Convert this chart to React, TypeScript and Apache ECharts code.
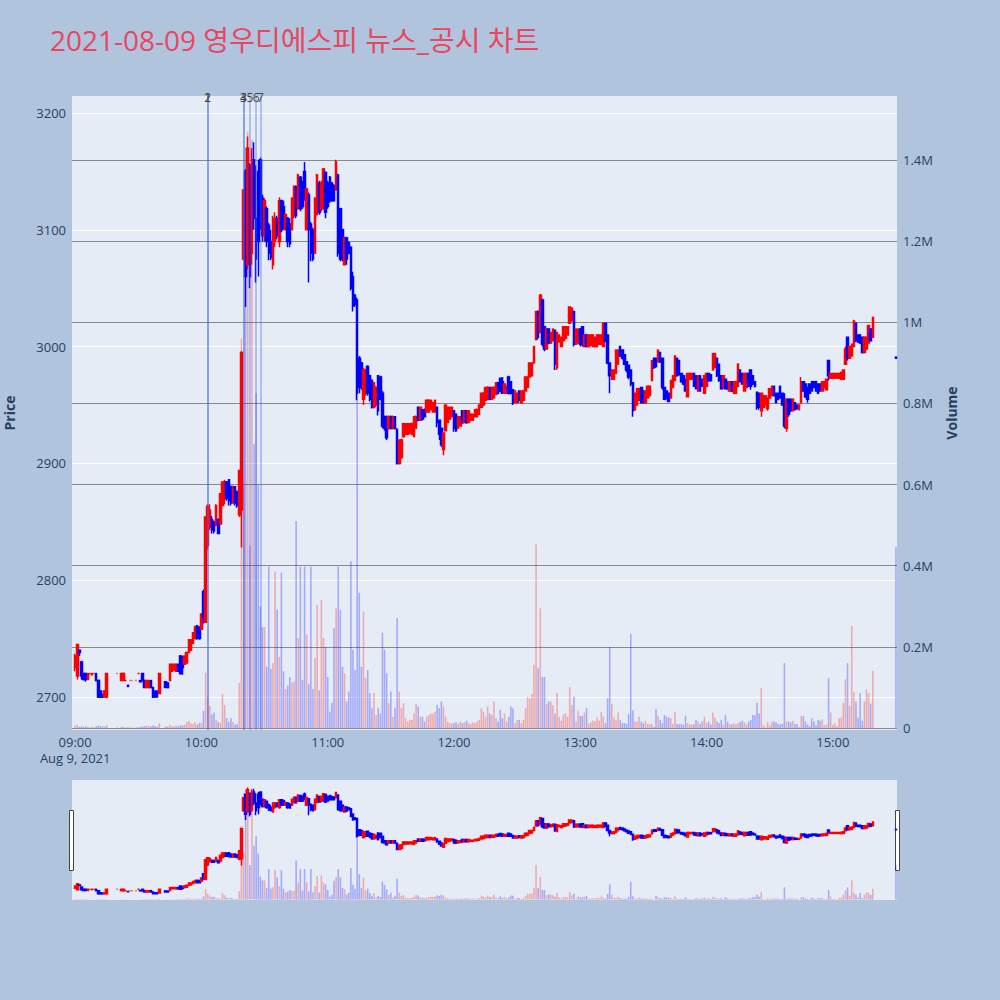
import React, { useEffect, useRef } from 'react';
import * as echarts from 'echarts';

const FONT = "'Open Sans', 'Noto Sans CJK KR', sans-serif";
const TITLE = '2021-08-09 영우디에스피 뉴스_공시 차트';
const HOUR_TICKS = ['09:00', '10:00', '11:00', '12:00', '13:00', '14:00', '15:00'];
const DATE_LABEL = 'Aug 9, 2021';
const NEWS_TIMES = ['10:03', '10:03', '10:20', '10:20', '10:23', '10:26', '10:28'];
const NEWS_LABELS = ['1', '2', '3', '4', '5', '6', '7'];
const PRICE_RANGE = [2671.7, 3214.6];
const VOLUME_RANGE = [-4.9, 1557.7]; // thousand shares

// candles: [open, close, low, high] per minute, null = no trade
const C09 = [
  [2725,2735,2722,2737],[2718,2745,2715,2745],[2740,2738,2735,2740],[2730,2718,2715,2731],[2720,2715,2714,2720],
  [2720,2715,2713,2720],[2715,2720,2715,2720],[2720,2720,2719,2720],[2719,2720,2719,2720],[2720,2720,2720,2720],
  [2720,2714,2714,2720],[2714,2700,2699,2715],[2705,2700,2699,2705],[2702,2700,2699,2702],[2700,2705,2700,2706],
  [2700,2720,2699,2720],null,null,null,null,
  [2720,2720,2720,2720],null,[2714,2720,2714,2720],[2714,2720,2714,2721],[2714,2714,2714,2714],
  [2710,2709,2709,2710],[2714,2714,2714,2714],[2714,2714,2714,2714],null,[2714,2714,2714,2714],
  [2720,2720,2720,2720],[2714,2713,2713,2714],[2720,2714,2714,2720],[2714,2708,2708,2714],[2708,2714,2708,2714],
  [2708,2714,2708,2714],[2714,2708,2708,2714],[2708,2700,2699,2708],[2705,2700,2699,2705],[2705,2700,2700,2705],
  [2703,2720,2703,2720],null,null,[2713,2708,2708,2713],[2712,2708,2708,2712],
  [2714,2728,2714,2728],[2722,2728,2722,2728],[2723,2728,2723,2728],[2722,2728,2722,2728],[2728,2722,2722,2728],
  [2735,2720,2719,2736],[2730,2725,2719,2735],[2728,2735,2728,2735],[2729,2738,2729,2738],[2738,2749,2738,2749],
  [2740,2749,2740,2749],[2746,2755,2746,2755],[2750,2760,2750,2761],[2761,2750,2749,2761],[2760,2750,2749,2760],
];
const C10 = [
  [2758,2771,2758,2771],[2790,2768,2763,2792],[2764,2854,2764,2854],[2830,2863,2826,2865],[2845,2860,2843,2865],
  [2852,2843,2840,2855],[2850,2842,2840,2851],[2847,2864,2846,2865],[2852,2840,2840,2853],[2848,2874,2848,2874],
  [2864,2884,2864,2884],[2870,2884,2865,2886],[2884,2870,2868,2885],[2886,2868,2864,2886],[2880,2866,2864,2881],
  [2866,2880,2866,2881],[2880,2866,2864,2880],[2876,2864,2862,2876],[2856,2894,2854,2894],[2860,2995,2828,2996],
  [3075,3134,3074,3135],[3150,3060,3034,3152],[3070,3170,3066,3180],[3155,3060,3050,3157],[3080,3160,3070,3170],
  [3160,3110,3100,3175],[3110,3075,3055,3155],[3150,3090,3060,3160],[3160,3105,3100,3162],[3127,3095,3090,3130],
  [3095,3125,3090,3127],[3118,3090,3085,3120],[3104,3080,3074,3106],[3090,3076,3074,3100],[3070,3110,3066,3112],
  [3090,3110,3085,3115],[3110,3095,3092,3112],[3090,3125,3085,3128],[3125,3100,3098,3126],[3120,3102,3100,3125],
  [3100,3113,3100,3114],[3110,3090,3085,3111],[3105,3088,3085,3110],[3100,3127,3100,3128],[3112,3137,3110,3138],
  [3137,3112,3110,3138],[3118,3147,3118,3148],[3145,3118,3116,3146],[3140,3120,3118,3142],[3150,3126,3125,3158],
  [3100,3135,3100,3136],[3130,3100,3055,3132],[3105,3080,3073,3107],[3100,3075,3073,3102],[3080,3127,3080,3128],
  [3113,3147,3113,3148],[3140,3115,3113,3142],[3118,3140,3116,3142],[3118,3152,3118,3153],[3149,3115,3110,3150],
];
const C11 = [
  [3140,3120,3118,3142],[3145,3125,3123,3146],[3140,3125,3124,3141],[3138,3125,3124,3139],[3134,3158,3134,3160],
  [3147,3080,3077,3148],[3118,3075,3073,3119],[3100,3075,3073,3101],[3070,3093,3070,3094],[3093,3075,3070,3094],
  [3089,3080,3079,3090],[3085,3050,3048,3086],[3060,3035,3030,3064],[3044,3036,3034,3045],[3040,2960,2954,3042],
  [2990,2965,2960,2992],[2986,2965,2963,2987],[2955,2980,2950,2982],[2960,2980,2958,2981],[2983,2960,2958,2984],
  [2975,2955,2953,2976],[2971,2948,2947,2972],[2948,2969,2947,2969],[2950,2965,2948,2966],[2975,2945,2941,2975],
  [2974,2955,2954,2975],[2960,2932,2930,2962],[2940,2930,2928,2941],[2940,2922,2920,2941],[2930,2940,2929,2941],
  [2940,2930,2929,2941],[2930,2940,2929,2941],[2940,2930,2929,2940],[2929,2900,2899,2930],[2900,2920,2899,2920],
  [2905,2920,2904,2921],[2923,2934,2922,2934],[2925,2934,2924,2934],[2925,2934,2925,2934],[2926,2934,2925,2934],
  [2925,2934,2924,2935],[2923,2940,2923,2940],[2930,2940,2930,2941],[2948,2937,2936,2948],[2937,2948,2937,2948],
  [2946,2938,2937,2946],[2946,2940,2940,2947],[2944,2954,2944,2954],[2944,2954,2944,2955],[2946,2954,2946,2954],
  [2944,2952,2944,2952],[2944,2954,2944,2954],[2948,2935,2931,2948],[2937,2925,2920,2937],[2930,2916,2914,2930],
  [2912,2926,2907,2926],[2928,2950,2928,2950],[2935,2948,2935,2948],[2938,2948,2938,2948],[2940,2948,2940,2948],
];
const C12 = [
  [2945,2930,2927,2945],[2942,2928,2927,2943],[2930,2940,2930,2941],[2932,2940,2932,2940],[2945,2935,2934,2945],
  [2935,2945,2935,2946],[2945,2935,2934,2945],[2935,2945,2935,2945],[2937,2942,2937,2943],[2937,2942,2937,2942],
  [2940,2946,2940,2946],[2940,2946,2940,2947],[2942,2950,2942,2950],[2948,2960,2948,2960],[2950,2960,2950,2961],
  [2954,2965,2954,2965],[2955,2965,2955,2966],[2965,2955,2954,2965],[2955,2965,2955,2965],[2956,2965,2956,2966],
  [2959,2969,2959,2969],[2969,2960,2959,2970],[2973,2962,2961,2973],[2970,2960,2960,2974],[2960,2968,2960,2968],
  [2960,2966,2960,2966],[2974,2960,2959,2975],[2970,2960,2959,2970],[2963,2952,2950,2963],[2952,2962,2952,2962],
  [2952,2960,2952,2960],[2962,2954,2952,2962],[2952,2962,2952,2962],[2954,2962,2954,2962],[2962,2974,2962,2974],
  [2965,2974,2965,2974],[2974,2986,2974,2986],[2975,2986,2975,2986],[2986,3000,2986,3000],[3006,3030,3006,3030],
  [3030,3008,3006,3031],[3012,3044,3012,3045],[3040,3002,3000,3041],[3017,2998,2996,3017],[2998,3015,2998,3015],
  [3015,3003,3002,3015],[3003,3012,3003,3012],[3005,3015,3005,3015],[3014,2985,2980,3014],[2982,3012,2980,3012],
  [3004,3010,3004,3010],[3000,3008,3000,3008],[3005,3017,3005,3017],[3007,3017,3007,3017],[3010,3017,3010,3017],
  [3020,3034,3020,3034],[3022,3033,3022,3033],[3030,3002,3000,3030],[3002,3015,3002,3015],[3003,3015,3003,3015],
];
const C13 = [
  [3015,3002,3000,3016],[3017,3002,3000,3017],[3000,3010,3000,3010],[3010,3000,3000,3011],[3000,3010,3000,3010],
  [3001,3010,3001,3010],[3000,3010,3000,3010],[3000,3008,3000,3008],[3000,3010,3000,3010],[3002,3010,3002,3010],
  [3002,3010,3002,3010],[3000,3020,3000,3020],[3020,3005,3004,3020],[3010,2986,2985,3010],[2986,2975,2960,2986],
  [2972,2980,2972,2980],[2972,2980,2972,2980],[2977,2997,2977,2997],[2985,2997,2985,2997],[3000,2992,2991,3000],
  [2997,2990,2989,2997],[2993,2985,2984,2993],[2987,2980,2978,2987],[2984,2974,2972,2984],[2980,2968,2966,2980],
  [2969,2945,2940,2969],[2946,2960,2945,2960],[2950,2964,2950,2964],[2954,2964,2954,2964],[2965,2952,2952,2965],
  [2962,2952,2952,2962],[2952,2962,2952,2962],[2956,2966,2956,2966],[2958,2966,2958,2966],[2971,2988,2971,2988],
  [2990,2982,2981,2990],[2990,2983,2982,2990],[2987,2997,2987,2997],[2995,2987,2986,2995],[2990,2965,2963,2990],
  [2965,2955,2954,2965],[2962,2956,2955,2962],[2960,2953,2953,2960],[2956,2971,2956,2971],[2965,2975,2965,2975],
  [2971,2992,2971,2992],[2990,2975,2975,2990],[2988,2976,2975,2988],[2977,2970,2969,2977],[2975,2968,2967,2975],
  [2972,2962,2962,2972],[2957,2977,2957,2977],[2972,2977,2972,2977],[2972,2977,2972,2977],[2977,2966,2966,2977],
  [2975,2964,2964,2975],[2962,2975,2962,2975],[2975,2962,2962,2975],[2972,2966,2966,2972],[2960,2975,2960,2975],
];
const C14 = [
  [2966,2977,2966,2977],[2977,2971,2970,2977],[2976,2971,2970,2976],[2980,2994,2980,2994],[2982,2994,2982,2994],
  [2990,2975,2974,2990],[2985,2971,2970,2985],[2975,2964,2963,2975],[2965,2975,2965,2975],[2972,2964,2964,2972],
  [2970,2964,2963,2970],[2962,2970,2962,2970],[2970,2962,2961,2970],[2960,2970,2960,2970],[2960,2970,2960,2970],
  [2966,2985,2966,2985],[2980,2970,2970,2980],[2977,2968,2968,2977],[2962,2977,2962,2977],[2965,2977,2965,2977],
  [2977,2966,2966,2977],[2980,2966,2963,2980],[2975,2968,2967,2975],[2970,2966,2965,2970],[2961,2948,2946,2961],
  [2960,2948,2946,2960],[2945,2960,2940,2960],[2948,2958,2948,2958],[2950,2958,2950,2958],[2947,2956,2945,2956],
  [2956,2964,2956,2964],[2958,2966,2958,2966],[2966,2958,2958,2966],[2960,2952,2952,2960],[2960,2955,2954,2960],
  [2966,2956,2956,2966],[2960,2950,2950,2960],[2955,2932,2930,2960],[2930,2955,2927,2955],[2955,2942,2940,2955],
  [2955,2945,2944,2955],[2945,2955,2945,2955],[2952,2946,2946,2952],[2950,2947,2946,2950],[2946,2950,2946,2950],
  [2952,2970,2952,2974],[2970,2962,2962,2970],[2968,2957,2956,2968],[2965,2955,2952,2965],[2968,2960,2960,2968],
  [2970,2962,2962,2970],[2970,2965,2965,2970],[2970,2962,2962,2970],[2968,2960,2960,2968],[2968,2962,2962,2968],
  [2962,2970,2962,2970],[2965,2970,2965,2970],[2963,2972,2963,2972],[2988,2975,2971,2988],[2973,2977,2973,2977],
];
const C15 = [
  [2973,2977,2973,2977],[2973,2977,2973,2977],[2973,2977,2973,2977],[2973,2977,2973,2977],[2972,2978,2972,2978],
  [2972,2980,2972,2980],[2985,2998,2985,3000],[3008,2990,2988,3008],[2990,3000,2990,3000],[2992,3002,2992,3002],
  [3000,3022,3000,3023],[3020,3005,3004,3020],[3010,3004,3003,3010],[3010,3003,3003,3010],[3008,2995,2994,3008],
  [2995,3008,2995,3008],[2998,3008,2998,3008],[3003,3018,3003,3018],[3015,3005,3005,3015],[3008,3025,3008,3025],
  null,null,null,null,null,null,null,null,null,null,
  [2991,2990,2990,2991],
];

// volume per minute, thousand shares
const V09 = [6,8,3,4,3,4,3,2,3,2, 4,6,5,4,4,7,null,null,null,null, 2,null,4,3,1,2,1,1,null,2, 2,3,4,5,6,5,4,6,5,3, 12,null,null,4,3,8,5,4,6,4, 7,6,8,15,18,12,10,14,8,12];
const V10 = [13,42,136,77,54,33,38,20,15,12, 84,57,25,15,24,15,8,10,111,960, 600,1430,1470,450,1450,700,825,600,300,249, 249,151,398,146,160,386,292,175,383,140, 96,105,125,112,115,510,222,398,118,398, 230,108,398,96,173,304,93,316,222,200];
const V11 = [126,40,62,246,295,398,291,151,135,65, 90,411,193,143,860,333,151,287,123,143, 86,49,86,32,49,36,235,193,135,61, 90,28,49,271,90,49,61,24,16,20, 20,36,59,53,28,28,16,28,32,36, 36,40,57,49,65,53,28,16,12,12];
const V12 = [12,14,10,16,12,14,18,12,10,14, 12,16,20,49,40,28,53,36,32,65, 24,16,45,24,36,16,28,53,49,12, 20,20,12,20,49,77,73,84,156,452, 147,295,126,126,59,65,65,57,36,87, 28,18,34,36,28,101,57,77,16,43];
const V13 = [30,30,38,49,11,14,18,16,26,18, 40,28,12,73,200,59,26,20,38,20, 12,12,10,34,232,43,16,16,28,16, 12,18,10,10,10,3,46,30,20,12, 32,28,26,24,10,40,10,9,10,8, 30,12,9,9,9,20,16,10,16,28];
const V14 = [12,16,9,38,26,16,12,20,9,32, 16,10,9,12,9,12,15,18,14,9, 16,20,32,32,62,36,99,7,3,15, 7,16,16,14,10,9,10,160,16,16, 14,18,10,10,3,30,30,16,9,5, 24,16,7,20,18,22,7,9,123,38];
const V15 = [8,12,5,24,26,62,120,160,54,252, 88,65,26,86,18,65,95,86,60,141, null,null,null,null,null,null,null,null,null,null, 447];

const UP = '#FF0000';
const DOWN = '#0000FF';
const UP_VOL = 'rgba(255,0,0,0.28)';
const DOWN_VOL = 'rgba(0,0,255,0.28)';
const AXIS_TEXT = '#2a3f5f';

// x axis: one padding slot before 09:00 (plotly range starts slightly before the open), then 09:00..15:30
function buildMinutes(): string[] {
  const out: string[] = ['08:59'];
  for (let t = 9 * 60; t <= 15 * 60 + 30; t++) {
    const h = String(Math.floor(t / 60)).padStart(2, '0');
    const m = String(t % 60).padStart(2, '0');
    out.push(`${h}:${m}`);
  }
  return out;
}

export default function App() {
  const ref = useRef<HTMLDivElement>(null);

  useEffect(() => {
    document.body.style.margin = '0';
    if (!ref.current) return;
    const chart = echarts.init(ref.current, null, { renderer: 'svg' });

    const minutes = buildMinutes();
    const rawCandles = [null, ...C09, ...C10, ...C11, ...C12, ...C13, ...C14, ...C15];
    const rawVolumes = [null, ...V09, ...V10, ...V11, ...V12, ...V13, ...V14, ...V15];
    const candles = rawCandles.map((c) => (c ? c : ['-', '-', '-', '-']));
    const volumes = rawVolumes.map((v, i) => {
      const c = rawCandles[i];
      if (v == null || !c) return '-';
      return { value: v, itemStyle: { color: c[1] >= c[0] ? UP_VOL : DOWN_VOL } };
    });

    const candleStyle = {
      color: UP,
      color0: DOWN,
      borderColor: UP,
      borderColor0: DOWN,
      borderColorDoji: UP,
      borderWidth: 1.5,
    };

    const gridBase = {
      left: 72,
      width: 825,
      show: true,
      backgroundColor: '#E5ECF6',
      borderWidth: 0,
      containLabel: false,
      outerBoundsMode: 'none',
    };

    const option: any = {
      animation: false,
      backgroundColor: '#B0C4DE',
      textStyle: { fontFamily: FONT },
      title: {
        text: TITLE,
        left: 45,
        top: 21,
        textStyle: { color: '#E8475F', fontSize: 28, fontWeight: 'normal', fontFamily: FONT },
      },
      grid: [
        { ...gridBase, top: 96, height: 634 },
        { ...gridBase, top: 780, height: 120 },
      ],
      xAxis: [
        {
          type: 'category',
          gridIndex: 0,
          data: minutes,
          boundaryGap: true,
          axisLine: { show: false },
          axisTick: { show: false },
          splitLine: { show: false },
          axisLabel: {
            interval: (_i: number, v: string) => HOUR_TICKS.includes(v),
            formatter: (v: string) => (v === HOUR_TICKS[0] ? `${v}\n${DATE_LABEL}` : v),
            color: AXIS_TEXT,
            fontSize: 13,
            lineHeight: 16,
            margin: 4,
            fontFamily: FONT,
          },
        },
        { type: 'category', gridIndex: 1, data: minutes, boundaryGap: true, show: false },
      ],
      yAxis: [
        {
          type: 'value',
          gridIndex: 0,
          position: 'left',
          min: PRICE_RANGE[0],
          max: PRICE_RANGE[1],
          splitNumber: 5,
          name: 'Price',
          nameLocation: 'middle',
          nameGap: 56,
          nameTextStyle: { color: AXIS_TEXT, fontSize: 14, fontWeight: 'bold', fontFamily: FONT },
          axisLine: { show: false },
          axisTick: { show: false },
          axisLabel: {
            color: AXIS_TEXT,
            fontSize: 13,
            margin: 6,
            showMinLabel: false,
            showMaxLabel: false,
            fontFamily: FONT,
            formatter: (v: number) => String(v),
          },
          splitLine: { show: true, showMinLine: false, showMaxLine: false, lineStyle: { color: '#FFFFFF', width: 1 } },
        },
        {
          type: 'value',
          gridIndex: 0,
          position: 'right',
          min: VOLUME_RANGE[0],
          max: VOLUME_RANGE[1],
          splitNumber: 8,
          name: 'Volume',
          nameLocation: 'middle',
          nameGap: 47,
          nameTextStyle: { color: AXIS_TEXT, fontSize: 14, fontWeight: 'bold', fontFamily: FONT },
          axisLine: { show: false },
          axisTick: { show: false },
          axisLabel: {
            color: AXIS_TEXT,
            fontSize: 13,
            margin: 6,
            showMinLabel: false,
            showMaxLabel: false,
            fontFamily: FONT,
            formatter: (v: number) => (v === 0 ? '0' : `${+(v / 1000).toFixed(1)}M`),
          },
          splitLine: { show: true, showMinLine: false, showMaxLine: false, lineStyle: { color: '#8A8A8A', width: 1 } },
        },
        { type: 'value', gridIndex: 1, min: PRICE_RANGE[0], max: PRICE_RANGE[1], show: false, splitLine: { show: false } },
        { type: 'value', gridIndex: 1, min: VOLUME_RANGE[0], max: VOLUME_RANGE[1], show: false, splitLine: { show: false } },
      ],
      graphic: [
        { type: 'rect', left: 69, top: 810, shape: { width: 4, height: 60 }, style: { fill: '#FFFFFF', stroke: '#444', lineWidth: 1 } },
        { type: 'rect', left: 895, top: 810, shape: { width: 4, height: 60 }, style: { fill: '#FFFFFF', stroke: '#444', lineWidth: 1 } },
      ],
      series: [
        {
          name: 'VolumeMain',
          type: 'bar',
          xAxisIndex: 0,
          yAxisIndex: 1,
          data: volumes,
          barWidth: 1.6,
          z: 1,
        },
        {
          name: 'PriceMain',
          type: 'candlestick',
          xAxisIndex: 0,
          yAxisIndex: 0,
          data: candles,
          barWidth: 2,
          itemStyle: candleStyle,
          z: 3,
          markLine: {
            silent: true,
            symbol: ['none', 'none'],
            animation: false,
            lineStyle: { color: 'rgba(65,105,225,0.45)', width: 1.5, type: 'solid' },
            label: { show: true, position: 'end', formatter: '{b}', color: '#444', fontSize: 12, distance: -7, fontFamily: FONT },
            data: NEWS_TIMES.map((t, i) => ({ name: NEWS_LABELS[i], xAxis: t })),
          },
        },
        {
          name: 'VolumeMini',
          type: 'bar',
          xAxisIndex: 1,
          yAxisIndex: 3,
          data: volumes,
          barWidth: 1.6,
          z: 1,
        },
        {
          name: 'PriceMini',
          type: 'candlestick',
          xAxisIndex: 1,
          yAxisIndex: 2,
          data: candles,
          barWidth: 2,
          itemStyle: candleStyle,
          z: 3,
        },
      ],
    };

    chart.setOption(option);
    return () => chart.dispose();
  }, []);

  return <div ref={ref} style={{ width: 1000, height: 1000 }} />;
}
